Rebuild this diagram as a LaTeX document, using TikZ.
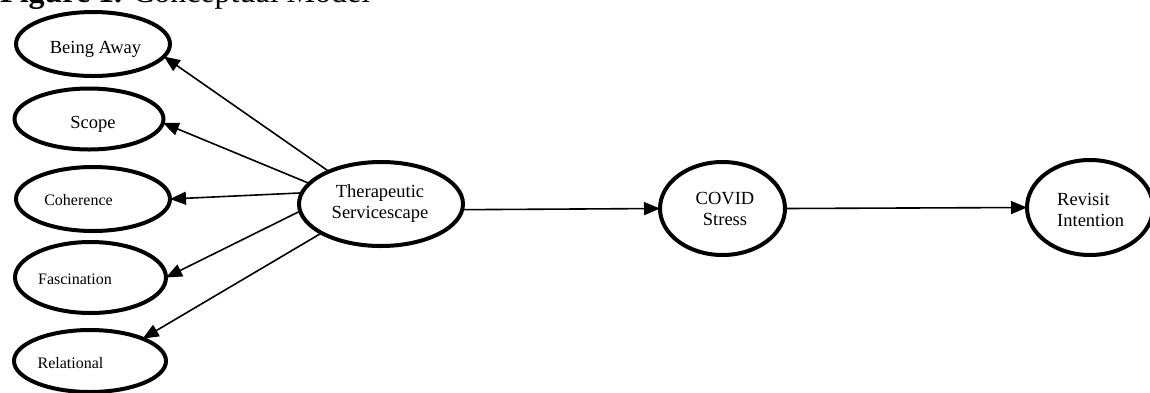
\documentclass[tikz,border=0pt]{standalone}
\usepackage{fontspec}
\setmainfont{Liberation Serif}
\usetikzlibrary{shapes.geometric,arrows.meta}
\begin{document}
\begin{tikzpicture}[x=1pt,y=-1pt,
  latent/.style={ellipse,draw,line width=4pt,inner sep=0pt,outer sep=0pt},
  lbl/.style={font=\fontsize{18.5}{20.5}\selectfont,inner sep=0pt},
  slbl/.style={font=\fontsize{16}{18}\selectfont,inner sep=0pt},
  conn/.style={line width=1.6pt,-{Triangle[length=16pt,width=13pt]}}]
\useasboundingbox (0,0) rectangle (1150,392);
\clip (0,0) rectangle (1150,392);
\node[anchor=base west,inner sep=0pt,font=\fontsize{32}{36}\selectfont] (title) at (0,2) {\textbf{Figure 1.} Conceptual Model};
% ellipses
\node[latent,minimum width=154pt,minimum height=64pt] (ba) at (93,44) {};
\node[latent,minimum width=149pt,minimum height=61pt] (sc) at (89,119) {};
\node[latent,minimum width=154pt,minimum height=64pt] (co) at (93,199) {};
\node[latent,minimum width=151pt,minimum height=71pt] (fa) at (90.5,277.5) {};
\node[latent,minimum width=152pt,minimum height=62pt] (re) at (90,361) {};
\node[latent,minimum width=164pt,minimum height=84pt] (ts) at (381,204) {};
\node[latent,minimum width=125pt,minimum height=93pt] (cs) at (722.5,208.5) {};
\node[latent,minimum width=126pt,minimum height=95pt] (ri) at (1090,207.5) {};
% labels
\node[lbl,anchor=base] (ba-t) at (95.5,53) {Being Away};
\node[lbl,anchor=base] (sc-t) at (93,128) {Scope};
\node[slbl,anchor=base] (co-t) at (78.5,205) {Coherence};
\node[slbl,anchor=base] (fa-t) at (75,284) {Fascination};
\node[slbl,anchor=base] (re-t) at (70.5,368) {Relational};
\node[lbl,anchor=base,align=center] (ts-t) at (380,218) {Therapeutic\\Servicescape};
\node[lbl,anchor=base,align=center] (cs-t) at (725,225) {COVID\\Stress};
\node[lbl,anchor=base west,align=left] (ri-t) at (1057,226) {Revisit\\Intention};
% connectors
\draw[conn] (ts.148) -- (ba.-10);
\draw[conn] (ts.164) -- (sc.-3);
\draw[conn] (ts.172) -- (co.0);
\draw[conn] (ts.185.5) -- (fa.0);
\draw[conn] (ts.206) -- (re.23);
\draw[conn] (ts.-4) -- (cs.west);
\draw[conn] (cs.east) -- (ri.west);
\end{tikzpicture}
\end{document}
